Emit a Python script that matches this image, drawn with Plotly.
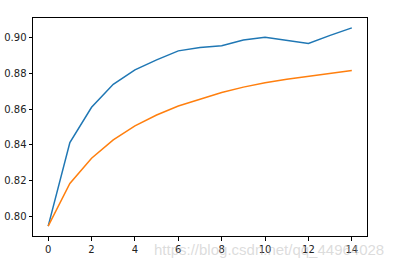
import plotly.graph_objects as go

epochs = list(range(15))
blue_vals = [0.7948, 0.8413, 0.8610, 0.8738, 0.8818, 0.8874, 0.8924, 0.8943,
             0.8952, 0.8985, 0.9000, 0.8984, 0.8965, 0.9010, 0.9052]
orange_vals = [0.7948, 0.8186, 0.8326, 0.8428, 0.8506, 0.8567, 0.8617, 0.8656,
               0.8692, 0.8722, 0.8747, 0.8766, 0.8781, 0.8798, 0.8814]
x_ticks = [0, 2, 4, 6, 8, 10, 12, 14]
y_ticks = [0.80, 0.82, 0.84, 0.86, 0.88, 0.90]
watermark = "https://blog.csdn.net/qq_44964028"

fig = go.Figure()
fig.add_trace(go.Scatter(x=epochs, y=blue_vals, mode="lines",
                         line=dict(color="#1f77b4", width=1.5), showlegend=False))
fig.add_trace(go.Scatter(x=epochs, y=orange_vals, mode="lines",
                         line=dict(color="#ff7f0e", width=1.5), showlegend=False))

axis_common = dict(showgrid=False, zeroline=False, showline=True, linecolor="black",
                   linewidth=1, mirror=True, ticks="outside", ticklen=3.5,
                   tickcolor="black", tickwidth=1, automargin=False,
                   tickfont=dict(family="DejaVu Sans", size=10, color="#222"))

fig.update_xaxes(range=[-0.7, 14.7], tickvals=x_ticks, **axis_common)
fig.update_yaxes(range=[0.7893, 0.9107], tickvals=y_ticks, tickformat=".2f", **axis_common)

fig.add_annotation(text=watermark, xref="paper", yref="paper", x=1.054, y=-0.02,
                   xanchor="right", yanchor="top", showarrow=False, borderpad=0,
                   font=dict(family="Liberation Sans", size=15, color="rgba(185,185,185,0.5)"))

fig.update_layout(width=395, height=267, margin=dict(l=33, r=28, t=18, b=31),
                  paper_bgcolor="white", plot_bgcolor="white")

fig.write_html("out.html")
